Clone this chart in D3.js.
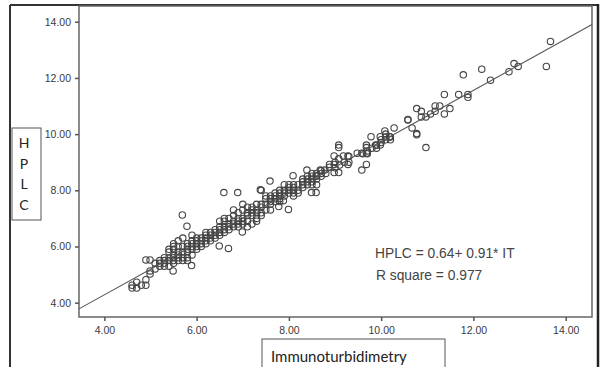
<!DOCTYPE html>
<html><head><meta charset="utf-8">
<script src="https://cdn.jsdelivr.net/npm/d3@7"></script>
<style>body{margin:0;background:#fff}svg{display:block}</style>
</head><body><svg id="c" width="602" height="367"></svg>
<script>
const xTicks = [4, 6, 8, 10, 12, 14];
const yTicks = [4, 6, 8, 10, 12, 14];
const fitIntercept = 0.64, fitSlope = 0.91;
const fitLabel = "HPLC = 0.64+ 0.91* IT";
const r2Label = "R square = 0.977";
const xTitle = "Immunoturbidimetry";
const yTitle = ["H", "P", "L", "C"];
// Immunoturbidimetry values
const itValues = [
13.67,13.58,12.97,12.88,12.77,12.37,12.18,11.78,11.88,11.88,11.68,11.37,11.49,11.37,11.27,11.17,11.17,11.07,10.97,10.87,10.87,10.77,10.97,10.77,10.77,10.67,10.58,10.58,10.28,10.18,10.08,9.98,9.98,9.88,9.78,9.68,9.68,9.68,9.68,9.58,9.58,9.48,9.28,9.28,9.18,9.08,9.08,9.08,9.08,8.98,8.98,8.98,8.88,8.88,8.78,8.68,8.59,8.59,8.49,8.39,8.09,7.99,7.59,7.38,7.88,7.78,6.89,6.59,5.69,5.79,6.99,6.49,6.69,5.89,5.49,4.90,4.99,4.90,4.90,4.80,4.70,4.60,4.60,4.70,4.99,4.99,
9.7,9.8,9.9,9.9,10.0,10.0,10.1,10.1,9.6,9.7,10.2,10.2,10.1,9.2,9.3,9.3,9.0,9.1,9.0,
5.1,5.1,5.2,5.2,5.2,5.3,5.3,5.3,5.3,5.4,5.4,5.4,5.4,5.4,5.5,5.5,5.5,5.5,5.5,5.5,5.5,
5.6,5.6,5.6,5.6,5.6,5.6,5.7,5.7,5.7,5.7,5.7,5.8,5.8,5.8,5.8,5.8,5.8,5.9,5.9,5.9,5.9,5.9,5.9,
6.0,6.0,6.0,6.0,6.0,6.1,6.1,6.1,6.1,6.2,6.2,6.2,6.2,6.2,6.3,6.3,6.3,6.3,6.4,6.4,6.4,6.4,
6.5,6.5,6.5,6.5,6.5,6.6,6.6,6.6,6.6,6.6,6.7,6.7,6.7,6.7,6.8,6.8,6.8,6.8,6.8,6.9,6.9,6.9,6.9,6.9,
7.0,7.0,7.0,7.0,7.0,7.1,7.1,7.1,7.1,7.1,7.2,7.2,7.2,7.2,7.2,7.3,7.3,7.3,7.3,7.3,7.4,7.4,7.4,7.4,7.4,
7.5,7.5,7.5,7.5,7.6,7.6,7.6,7.6,7.6,7.7,7.7,7.7,7.7,7.8,7.8,7.8,7.8,7.8,7.9,7.9,7.9,7.9,
8.0,8.0,8.0,8.0,8.1,8.1,8.1,8.1,8.1,8.2,8.2,8.2,8.3,8.3,8.3,8.3,8.4,8.4,8.4,8.4,
8.5,8.5,8.5,8.5,8.5,8.6,8.6,8.6,8.6,8.7,8.7,8.7,8.8
];
// HPLC values
const hplcValues = [
13.30,12.41,12.41,12.51,12.22,11.92,12.31,12.11,11.41,11.31,11.41,11.41,10.91,10.72,11.00,11.00,10.81,10.72,10.61,10.81,10.61,10.91,9.52,10.02,9.98,10.22,10.52,10.50,10.22,9.91,10.11,9.91,9.61,9.61,9.91,9.61,9.52,9.32,8.92,8.72,9.32,9.32,9.22,8.92,9.22,9.61,9.52,9.12,8.63,9.22,8.92,8.63,8.92,8.82,8.72,8.72,8.52,7.92,7.92,8.72,8.52,7.32,8.33,8.02,7.63,7.42,7.92,7.92,7.12,6.72,6.52,6.02,5.93,5.32,5.13,5.52,5.52,4.82,4.62,4.62,4.73,4.62,4.52,4.52,5.02,5.13,
9.4,9.5,9.6,9.5,9.7,9.8,9.9,9.8,9.3,9.3,9.8,9.9,10.0,9.0,9.0,9.2,8.8,8.9,9.0,
5.2,5.4,5.3,5.4,5.5,5.3,5.4,5.5,5.6,5.3,5.5,5.6,5.8,5.9,5.4,5.5,5.6,5.7,5.9,6.0,6.1,
5.5,5.6,5.7,5.8,6.0,6.2,5.5,5.6,5.8,6.0,6.3,5.6,5.8,5.9,6.0,6.1,5.5,5.7,5.9,6.0,6.1,6.2,6.4,
5.9,6.0,6.1,6.2,6.3,6.0,6.1,6.2,6.3,6.1,6.2,6.3,6.4,6.5,6.2,6.3,6.4,6.5,6.3,6.4,6.5,6.6,
6.4,6.5,6.6,6.7,6.9,6.5,6.6,6.7,6.9,7.0,6.6,6.7,6.8,7.0,6.7,6.8,6.9,7.1,7.3,6.7,6.8,6.9,7.0,7.2,
6.8,6.9,7.0,7.3,7.5,6.7,6.9,7.1,7.2,7.4,6.8,7.1,7.2,7.3,7.4,6.9,7.0,7.2,7.3,7.5,7.1,7.2,7.4,7.5,8.0,
7.3,7.5,7.7,7.8,7.3,7.5,7.6,7.7,7.8,7.6,7.7,7.8,7.9,7.6,7.7,7.8,7.9,8.0,7.8,7.9,8.0,8.2,
7.9,8.0,8.1,8.2,7.8,7.9,8.0,8.1,8.2,7.9,8.0,8.2,8.1,8.2,8.3,8.4,8.2,8.3,8.4,8.5,
8.2,8.3,8.4,8.5,8.6,8.2,8.4,8.5,8.6,8.5,8.6,8.7,8.6
];

const svg = d3.select("#c");
const L = 79, R = 592, T = 6, B = 317;
const x = d3.scaleLinear().domain([3.45, 14.57]).range([L, R]);
const y = d3.scaleLinear().domain([3.49, 14.56]).range([B, T]);

// outer frame
svg.append("line").attr("x1",10).attr("x2",598).attr("y1",5).attr("y2",5).attr("stroke","#333").attr("stroke-width",2);
svg.append("line").attr("x1",10).attr("x2",10).attr("y1",5).attr("y2",367).attr("stroke","#333").attr("stroke-width",2);
svg.append("line").attr("x1",598).attr("x2",598).attr("y1",4).attr("y2",367).attr("stroke","#222").attr("stroke-width",2.5);

// plot frame
svg.append("rect").attr("x",L).attr("y",T).attr("width",R-L).attr("height",B-T)
  .attr("fill","none").attr("stroke","#666").attr("stroke-width",1.5);

const gx = svg.append("g").attr("transform",`translate(0,${B})`)
  .call(d3.axisBottom(x).tickValues(xTicks).tickFormat(d3.format(".2f")).tickSize(4).tickSizeOuter(0));
const gy = svg.append("g").attr("transform",`translate(${L},0)`)
  .call(d3.axisLeft(y).tickValues(yTicks).tickFormat(d3.format(".2f")).tickSize(4).tickSizeOuter(0));
[gx, gy].forEach(g => {
  g.select(".domain").remove();
  g.selectAll("line").attr("stroke","#555").attr("stroke-width",1.5);
  g.selectAll("text").attr("fill","#3a3a3a").style("font-family","Liberation Sans, Arial, sans-serif")
    .style("font-size","10.5px");
});
gx.selectAll("text").attr("dy","0.95em");
gy.selectAll("text").attr("dx","-1px");

// points
const pts = itValues.map((v,i)=>({x:v,y:hplcValues[i]}));
svg.append("g").selectAll("circle").data(pts).join("circle")
  .attr("cx",d=>x(d.x)).attr("cy",d=>y(d.y)).attr("r",3.2)
  .attr("fill","none").attr("stroke","#444").attr("stroke-width",1.1);

// fit line
const xd = x.domain();
svg.append("line")
  .attr("x1",x(xd[0])).attr("y1",y(fitIntercept+fitSlope*xd[0]))
  .attr("x2",x(xd[1])).attr("y2",y(fitIntercept+fitSlope*xd[1]))
  .attr("stroke","#555").attr("stroke-width",1.1);

// annotations
svg.append("text").attr("x",375).attr("y",258).text(fitLabel)
  .attr("fill","#444").style("font-family","Liberation Sans, Arial, sans-serif").style("font-size","13.8px");
svg.append("text").attr("x",376).attr("y",280).text(r2Label)
  .attr("fill","#444").style("font-family","Liberation Sans, Arial, sans-serif").style("font-size","13.8px");

// y title box
svg.append("rect").attr("x",12).attr("y",128).attr("width",29).attr("height",92)
  .attr("fill","#fff").attr("stroke","#555").attr("stroke-width",1);
yTitle.forEach((c,i)=>{
  svg.append("text").attr("x",24).attr("y",148+i*20.5).attr("text-anchor","middle").text(c)
    .attr("fill","#222").style("font-family","Lato, 'Open Sans', sans-serif").style("font-size","14px");
});
// x title box
svg.append("rect").attr("x",262).attr("y",339).attr("width",183).attr("height",40)
  .attr("fill","#fff").attr("stroke","#555").attr("stroke-width",1);
svg.append("text").attr("x",271).attr("y",362).text(xTitle)
  .attr("fill","#222").style("font-family","Lato, 'Open Sans', sans-serif").style("font-size","15px");
</script></body></html>
